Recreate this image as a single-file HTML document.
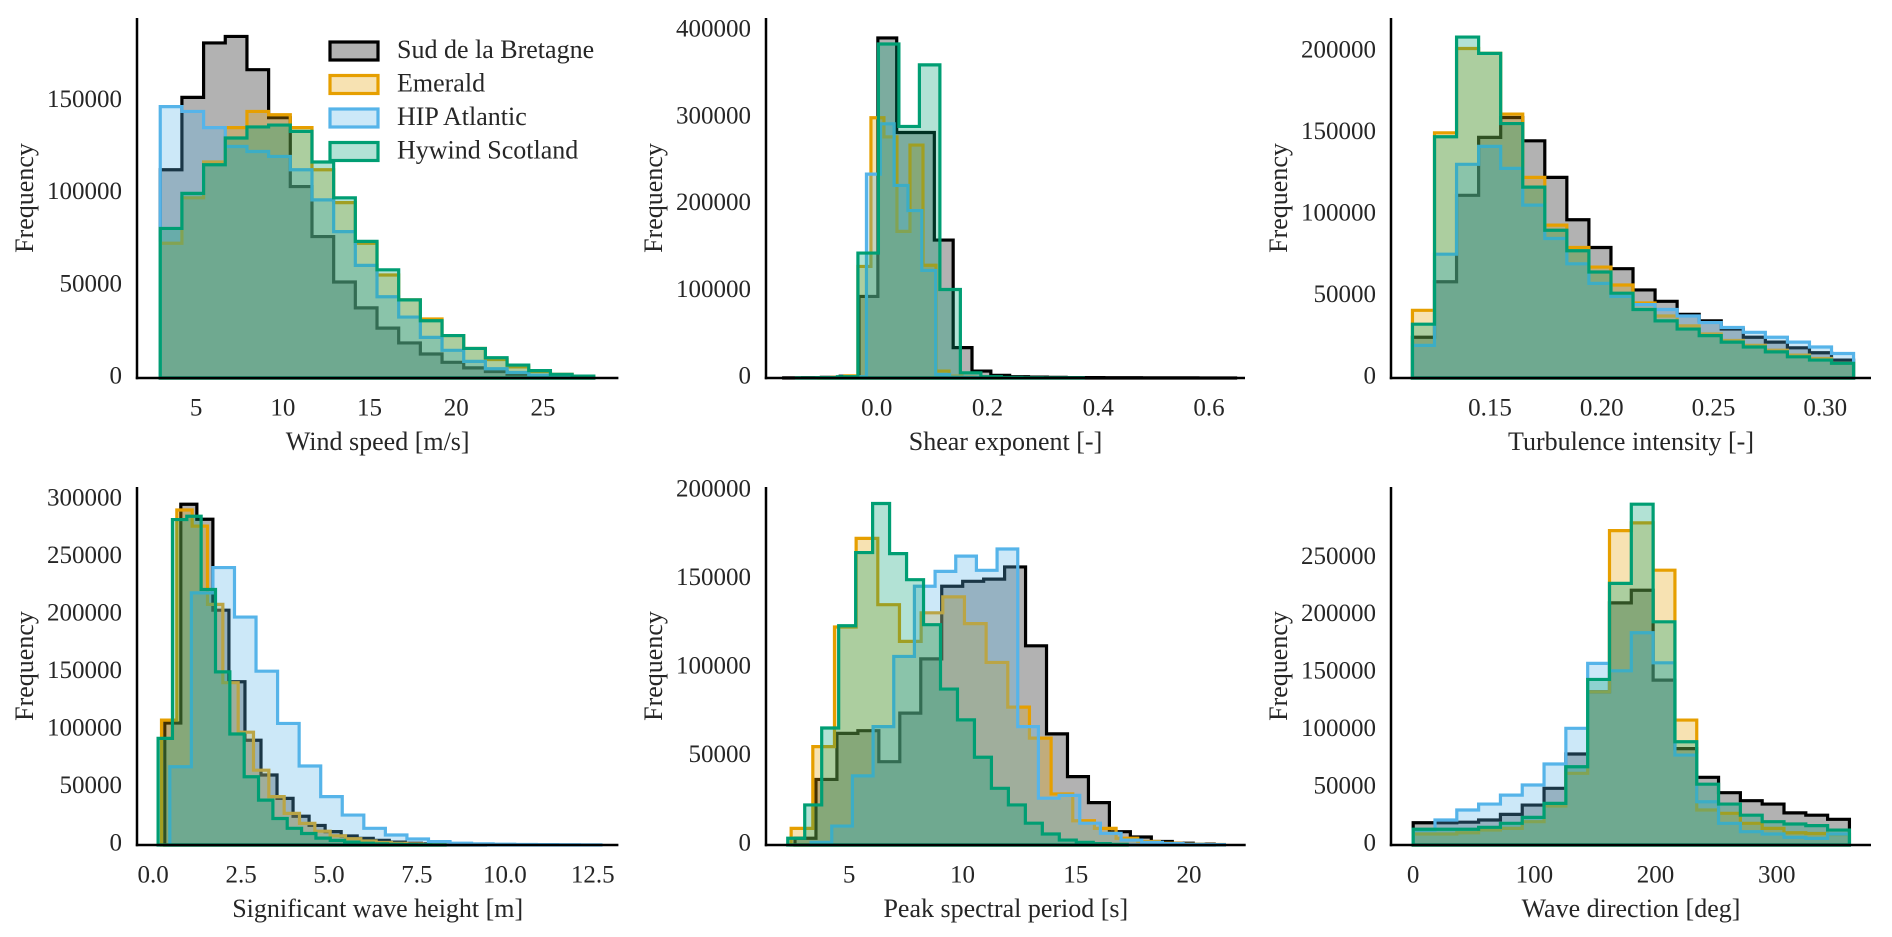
<!DOCTYPE html>
<html>
<head>
<meta charset="utf-8">
<style>
  html, body { margin: 0; padding: 0; background: #ffffff; }
  svg { display: block; }
  text { font-family: "Liberation Serif", "DejaVu Serif", serif; fill: #262626; }
</style>
</head>
<body>
<svg id="fig" width="1892" height="937" viewBox="0 0 1892 937" xmlns="http://www.w3.org/2000/svg">
  <rect x="0" y="0" width="1892" height="937" fill="#ffffff"/>
</svg>
<script>
// ---------- shared ----------
const seriesNames = ["Sud de la Bretagne", "Emerald", "HIP Atlantic", "Hywind Scotland"];
const seriesColors = ["#000000", "#E69F00", "#56B4E9", "#009E73"];

// ---------- Wind speed ----------
const windLo = [2.93, 2.93, 2.93, 2.93];
const windWidth = [1.25, 1.25, 1.25, 1.25];
const windSud = [112800, 152000, 181500, 185000, 167000, 141000, 103700, 76600, 52000, 38000, 27000, 19000, 13000, 8500, 5500, 3500, 2000, 1200, 600, 300];
const windEmerald = [73000, 97600, 117000, 135600, 144400, 142600, 135600, 112800, 95000, 73000, 55800, 42300, 32000, 23000, 16000, 10000, 6000, 3500, 2000, 1000];
const windHip = [147000, 144400, 135600, 125400, 122700, 120000, 112800, 96500, 79300, 61000, 44000, 33000, 22000, 15000, 9000, 5000, 3000, 1500, 800, 300];
const windHywind = [81000, 100000, 115500, 130000, 136000, 137000, 133600, 117000, 97600, 74000, 58600, 42300, 31000, 23000, 16000, 11000, 7000, 4000, 2000, 1000];
const windXTicks = [5, 10, 15, 20, 25];
const windYTicks = [0, 50000, 100000, 150000];

// ---------- Shear exponent ----------
const shearLo = [-0.168, -0.1045, -0.0936, -0.145];
const shearWidth = [0.034, 0.0235, 0.025, 0.037];
const shearSud = [100, 300, 800, 2000, 94000, 392000, 283000, 283000, 159000, 35000, 8000, 3000, 1500, 1000, 700, 500, 400, 300, 250, 200, 150, 100, 80, 60];
const shearEmerald = [300, 800, 2500, 128600, 300000, 278000, 169000, 268500, 130000, 8000, 2000, 800, 400, 200];
const shearHip = [200, 500, 1500, 235000, 293000, 222000, 193000, 124000, 4000, 1000, 400, 200];
const shearHywind = [200, 500, 1500, 144000, 385000, 290000, 361000, 102000, 6000, 1500, 600, 300, 200, 100];
const shearXTicks = ["0.0", "0.2", "0.4", "0.6"];
const shearYTicks = [0, 100000, 200000, 300000, 400000];

// ---------- Turbulence intensity ----------
const turbLo = [0.1153, 0.1153, 0.1153, 0.1153];
const turbWidth = [0.00987, 0.00987, 0.00987, 0.00987];
const turbSud = [25000, 59000, 112000, 147500, 159700, 145400, 123000, 97000, 80000, 67000, 54000, 47000, 39000, 35000, 30000, 25000, 22000, 18500, 15500, 11000];
const turbEmerald = [41500, 150300, 202000, 199000, 161800, 123000, 93700, 80000, 68000, 57000, 46000, 38000, 32000, 27000, 23000, 20000, 17000, 14000, 12000, 9000];
const turbHip = [20000, 75900, 131000, 142000, 128500, 106000, 85500, 70000, 58000, 50000, 45000, 42000, 38000, 34000, 31000, 28000, 25000, 22000, 19000, 15000];
const turbHywind = [33000, 147900, 209000, 199000, 156000, 117000, 90600, 78000, 65000, 52000, 42000, 35000, 30000, 26000, 22000, 19000, 16000, 13000, 11000, 9000];
const turbXTicks = ["0.15", "0.20", "0.25", "0.30"];
const turbYTicks = [0, 50000, 100000, 150000, 200000];

// ---------- Significant wave height ----------
const hsLo = [0.33, 0.237, 0.473, 0.14];
const hsWidth = [0.456, 0.436, 0.613, 0.408];
const hsSud = [106000, 296000, 283000, 204000, 141800, 91000, 60800, 40500, 25000, 17000, 11600, 7800, 5800, 4000, 2500, 1500, 1000, 600, 400, 200];
const hsEmerald = [108500, 291000, 277000, 209000, 141000, 98000, 65000, 42000, 27500, 18800, 12000, 8000, 5500, 3500, 2200, 1400, 900, 500, 300, 200];
const hsHip = [68000, 219000, 241000, 198000, 151000, 105600, 68600, 42000, 26000, 14500, 8700, 5200, 3000, 1500, 1000, 700, 500, 300, 200, 100];
const hsHywind = [92600, 282700, 285600, 222000, 150400, 96400, 59300, 39000, 23000, 14500, 10000, 6000, 4000, 2500, 1500, 1000, 600, 400, 200, 100];
const hsXTicks = ["0.0", "2.5", "5.0", "7.5", "10.0", "12.5"];
const hsYTicks = [0, 50000, 100000, 150000, 200000, 250000, 300000];

// ---------- Peak spectral period ----------
const tpLo = [2.61, 2.44, 3.32, 2.29];
const tpWidth = [0.925, 0.956, 0.912, 0.749];
const tpSud = [3800, 37000, 63000, 64500, 47000, 74400, 105000, 146000, 148800, 150000, 156900, 112400, 62700, 38600, 23900, 7500, 4500, 2000, 1000, 500];
const tpEmerald = [9400, 55500, 123000, 173000, 135600, 114900, 131000, 140000, 124900, 103000, 77800, 60300, 28800, 13700, 9400, 3800, 2000, 1000, 500, 300];
const tpHip = [1500, 10700, 39000, 66800, 106400, 146000, 154400, 163000, 155000, 167000, 66800, 26400, 28000, 12300, 6600, 2800, 1500, 800, 400, 200];
const tpHywind = [3800, 22600, 66000, 123700, 165000, 192700, 164400, 149700, 124300, 88000, 70600, 49500, 32000, 22600, 12300, 6200, 2800, 1500, 800, 400];
const tpXTicks = [5, 10, 15, 20];
const tpYTicks = [0, 50000, 100000, 150000, 200000];

// ---------- Wave direction ----------
const dirLo = [0, 0, 0, 0];
const dirWidth = [18, 18, 18, 18];
const dirSud = [19400, 19400, 19900, 21800, 26700, 34800, 49400, 79300, 133500, 211000, 222000, 143700, 84000, 59000, 45600, 38600, 35700, 28000, 26000, 22400];
const dirEmerald = [9600, 9600, 10700, 13000, 14500, 20300, 34000, 62500, 133500, 274000, 280700, 239500, 108900, 30500, 27600, 18900, 14500, 10700, 10000, 9000];
const dirHip = [13000, 21800, 30500, 35700, 43500, 52300, 70600, 101700, 158300, 151800, 185000, 158800, 78400, 37700, 18900, 11600, 9600, 6700, 5800, 9600];
const dirHywind = [13700, 13700, 13700, 15400, 18900, 24100, 36300, 68200, 144300, 228000, 297000, 194500, 90000, 53000, 35700, 26000, 20300, 18300, 16900, 13000];
const dirXTicks = [0, 100, 200, 300];
const dirYTicks = [0, 50000, 100000, 150000, 200000, 250000];

const NS = "http://www.w3.org/2000/svg";
const svg = document.getElementById("fig");

function mk(tag, attrs, parent) {
  const e = document.createElementNS(NS, tag);
  for (const k in attrs) e.setAttribute(k, attrs[k]);
  (parent || svg).appendChild(e);
  return e;
}

const panels = [
  { key: "wind", title: "Wind speed [m/s]", L: 137, R: 618.4, T: 18, B: 378, xlim: [1.59, 29.35], ylim: [0, 195000],
    lo: windLo, w: windWidth, data: [windSud, windEmerald, windHip, windHywind], xt: windXTicks, yt: windYTicks, legend: true },
  { key: "shear", title: "Shear exponent [-]", L: 766, R: 1245, T: 18, B: 378, xlim: [-0.2, 0.665], ylim: [0, 415000],
    lo: shearLo, w: shearWidth, data: [shearSud, shearEmerald, shearHip, shearHywind], xt: shearXTicks, yt: shearYTicks },
  { key: "turbulence", title: "Turbulence intensity [-]", L: 1391, R: 1871, T: 18, B: 378, xlim: [0.1057, 0.3205], ylim: [0, 220700],
    lo: turbLo, w: turbWidth, data: [turbSud, turbEmerald, turbHip, turbHywind], xt: turbXTicks, yt: turbYTicks },
  { key: "wave-height", title: "Significant wave height [m]", L: 137, R: 618.4, T: 487, B: 845, xlim: [-0.46, 13.23], ylim: [0, 311000],
    lo: hsLo, w: hsWidth, data: [hsSud, hsEmerald, hsHip, hsHywind], xt: hsXTicks, yt: hsYTicks },
  { key: "peak-period", title: "Peak spectral period [s]", L: 766, R: 1245.7, T: 487, B: 845, xlim: [1.33, 22.5], ylim: [0, 202000],
    lo: tpLo, w: tpWidth, data: [tpSud, tpEmerald, tpHip, tpHywind], xt: tpXTicks, yt: tpYTicks },
  { key: "wave-direction", title: "Wave direction [deg]", L: 1391, R: 1871, T: 487, B: 845, xlim: [-18.3, 377.8], ylim: [0, 312000],
    lo: dirLo, w: dirWidth, data: [dirSud, dirEmerald, dirHip, dirHywind], xt: dirXTicks, yt: dirYTicks }
];

panels.forEach(function (p) {
  const g = mk("g", {});
  
  
  const xs = function (v) { return p.L + (v - p.xlim[0]) / (p.xlim[1] - p.xlim[0]) * (p.R - p.L); };
  const ys = function (v) { return p.B - (v - p.ylim[0]) / (p.ylim[1] - p.ylim[0]) * (p.B - p.T); };

  p.data.forEach(function (counts, si) {
    const lo = p.lo[si], w = p.w[si];
    let d = "M" + xs(lo).toFixed(2) + "," + ys(0).toFixed(2);
    counts.forEach(function (c, k) {
      const y = ys(c).toFixed(2);
      d += " L" + xs(lo + k * w).toFixed(2) + "," + y + " L" + xs(lo + (k + 1) * w).toFixed(2) + "," + y;
    });
    d += " L" + xs(lo + counts.length * w).toFixed(2) + "," + ys(0).toFixed(2) + " Z";
    const path = mk("path", { d: d, fill: seriesColors[si], "fill-opacity": "0.3", stroke: seriesColors[si],
      "stroke-width": "3.2", "stroke-linejoin": "miter" }, g);
    
    
  });

  const ls = mk("line", { x1: p.L, y1: p.T, x2: p.L, y2: p.B + 1.2, stroke: "#000", "stroke-width": "2.5" }, g);
  
  
  const bs = mk("line", { x1: p.L - 1.2, y1: p.B, x2: p.R, y2: p.B, stroke: "#000", "stroke-width": "2.5" }, g);
  
  

  p.xt.forEach(function (t) {
    const tx = mk("text", { x: xs(parseFloat(t)), y: p.B + 32, "font-size": "25", "text-anchor": "middle", "dominant-baseline": "middle" }, g);
    tx.textContent = String(t);
    
    
  });
  p.yt.forEach(function (t) {
    const ty = mk("text", { x: p.L - 15, y: ys(t), "font-size": "25", "text-anchor": "end", "dominant-baseline": "middle" }, g);
    ty.textContent = String(t);
    
    
  });
  const xl = mk("text", { x: (p.L + p.R) / 2, y: p.B + 66, "font-size": "26", "text-anchor": "middle", "dominant-baseline": "middle" }, g);
  xl.textContent = p.title;
  
  
  const cy = (p.T + p.B) / 2, cx = p.L - 110;
  const yl = mk("text", { x: cx, y: cy, "font-size": "26", "text-anchor": "middle", "dominant-baseline": "middle",
    transform: "rotate(-90 " + cx + " " + cy + ")" }, g);
  yl.textContent = "Frequency";
  
  

  if (p.legend) {
    const lg = mk("g", {}, g);
    
    
    seriesNames.forEach(function (name, si) {
      const cyl = 51 + si * 33.5;
      const r = mk("rect", { x: 330, y: cyl - 9, width: 48, height: 18, fill: seriesColors[si], "fill-opacity": "0.3",
        stroke: seriesColors[si], "stroke-width": "3.2" }, lg);
      
      
      const t = mk("text", { x: 397, y: cyl + 1, "font-size": "26", "dominant-baseline": "middle" }, lg);
      t.textContent = name;
      
      
    });
  }
});
</script>
</body>
</html>
